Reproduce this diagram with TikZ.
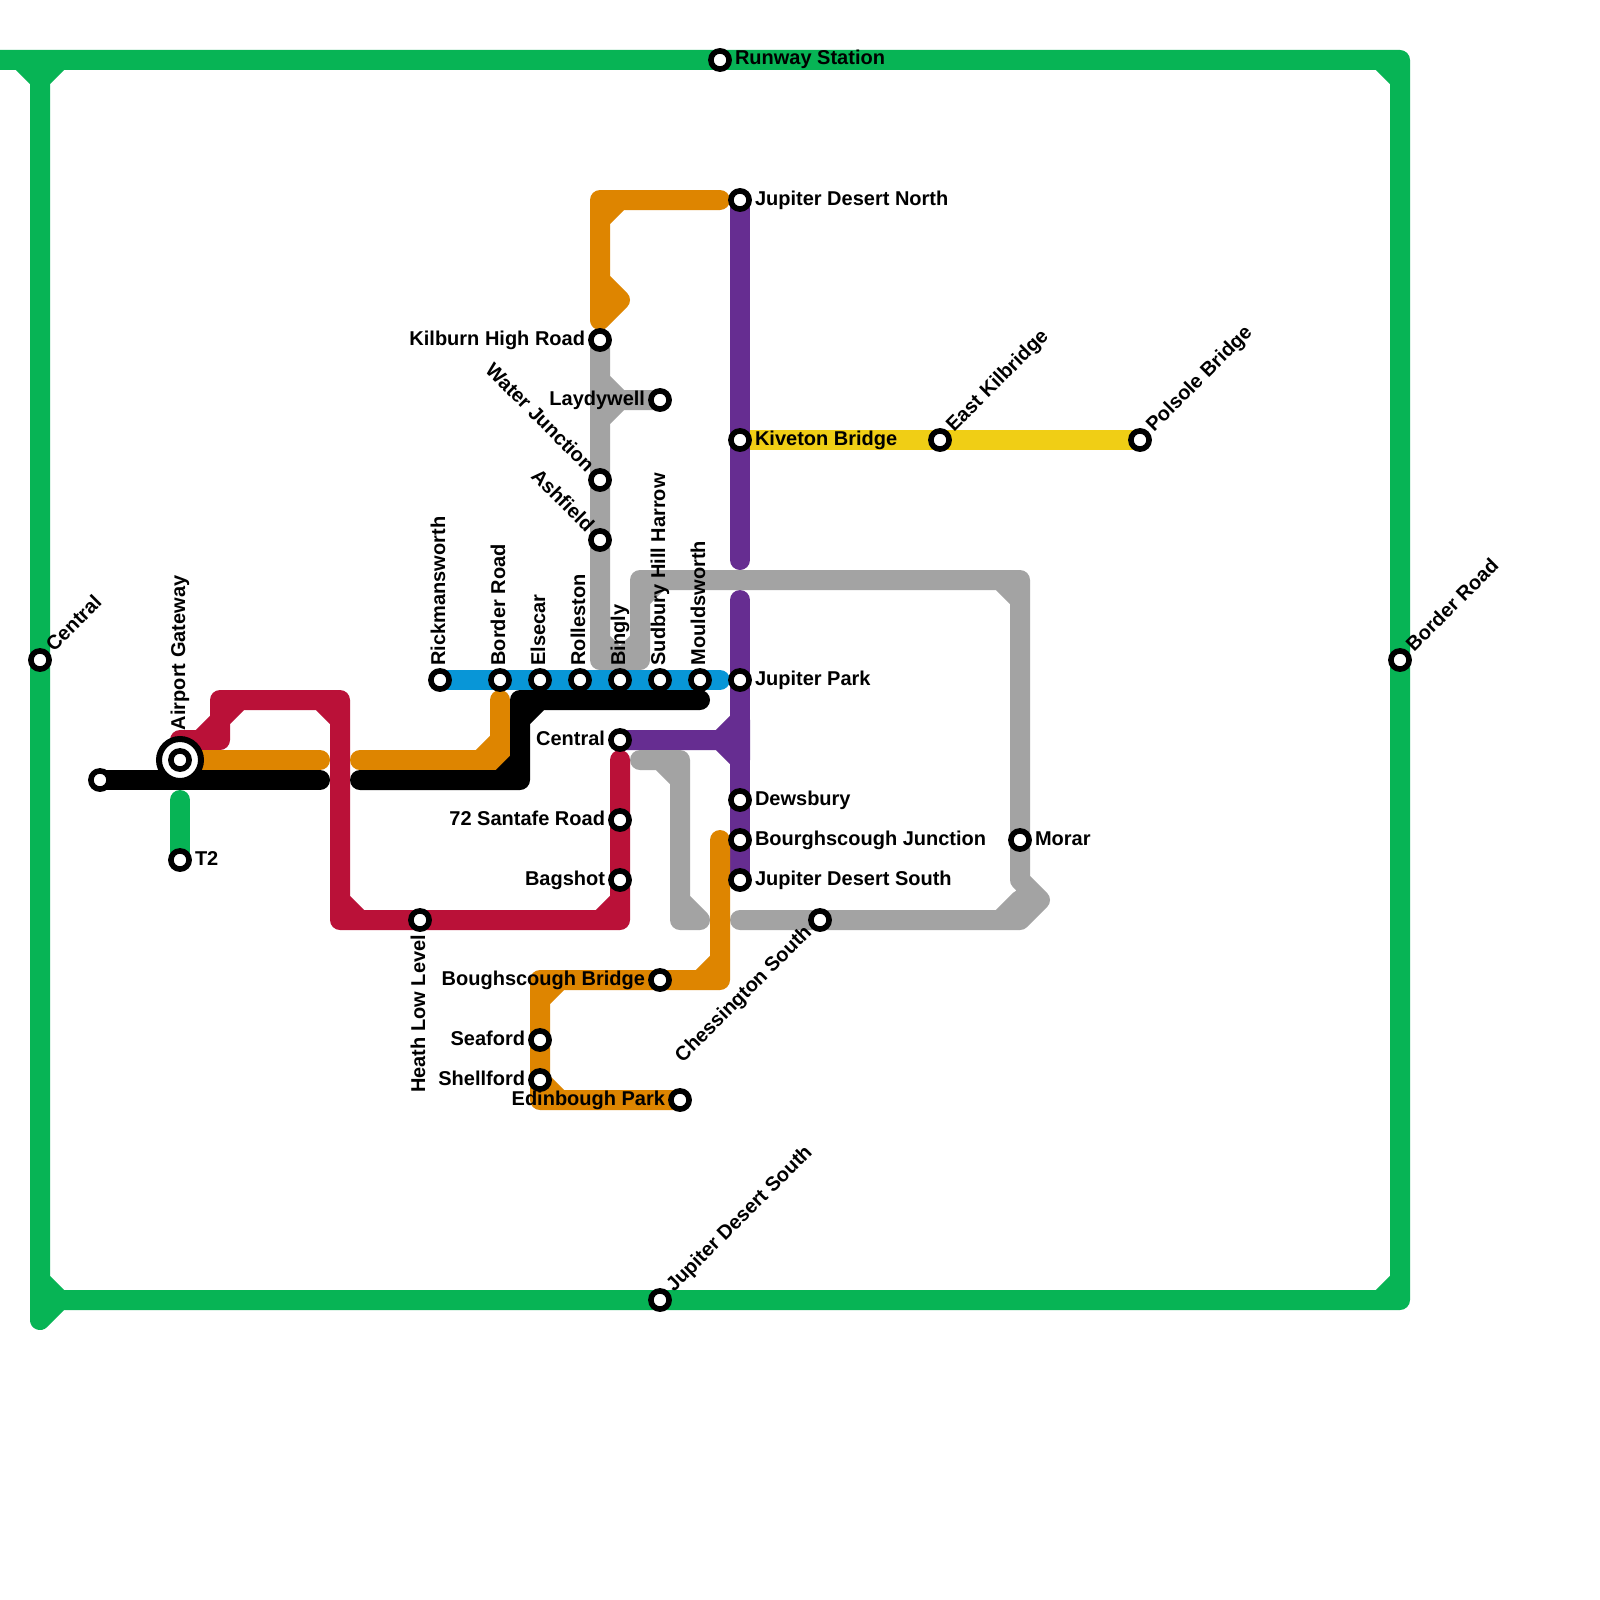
\documentclass[tikz,border=0pt]{standalone}
\usepackage{fontspec}
\setmainfont{Liberation Sans}
\usetikzlibrary{calc}
\pgfdeclarelayer{lines}
\pgfsetlayers{lines,main}
\definecolor{mgreen}{HTML}{07B455}
\definecolor{mred}{HTML}{BA1138}
\definecolor{morange}{HTML}{DE8500}
\definecolor{mblue}{HTML}{0896D7}
\definecolor{mpurple}{HTML}{662D91}
\definecolor{mgray}{HTML}{A3A3A3}
\definecolor{myellow}{HTML}{F0CE15}
\tikzset{
  metro/.style={line width=20pt,line cap=round,line join=round},
  stn/.style={circle,draw=black,fill=white,line width=5.6pt,minimum size=18.2pt,inner sep=0pt,outer sep=0pt},
  hub/.style={circle,draw=black,fill=white,line width=6pt,minimum size=42pt,inner sep=0pt,outer sep=0pt},
  lbl/.style={font=\bfseries\fontsize{20pt}{20pt}\selectfont,text=black,inner sep=0pt,outer sep=0pt,text height=15pt,text depth=5pt},
  lblE/.style={lbl,anchor=west},
  lblW/.style={lbl,anchor=east},
  lblUp/.style={lbl,anchor=west,rotate=90},
  lblDn/.style={lbl,anchor=east,rotate=90},
  lblNE/.style={lbl,anchor=west,rotate=45},
  lblSW/.style={lbl,anchor=east,rotate=45},
  lblNW/.style={lbl,anchor=east,rotate=-45}
}
\begin{document}
\begin{tikzpicture}[x=1pt,y=-1pt]
\useasboundingbox (0,0) rectangle (1600,1600);
% stations
\node[stn] (runway) at (720,60) {};
\node[stn] (jdn) at (740,200) {};
\node[stn] (kiveton) at (740,440) {};
\node[stn] (eastk) at (940,440) {};
\node[stn] (polsole) at (1140,440) {};
\node[stn] (kilburn) at (600,340) {};
\node[stn] (laydy) at (660,400) {};
\node[stn] (water) at (600,480) {};
\node[stn] (ashfield) at (600,540) {};
\node[stn] (rick) at (440,680) {};
\node[stn] (border) at (500,680) {};
\node[stn] (elsecar) at (540,680) {};
\node[stn] (rolleston) at (580,680) {};
\node[stn] (bingly) at (620,680) {};
\node[stn] (sudbury) at (660,680) {};
\node[stn] (mould) at (700,680) {};
\node[stn] (jpark) at (740,680) {};
\node[stn] (centralm) at (620,740) {};
\node[hub] (airporthub) at (180,760) {};
\node[stn] (airport) at (180,760) {};
\node[stn] (blackend) at (100,780) {};
\node[stn] (ttwo) at (180,860) {};
\node[stn] (centrall) at (40,660) {};
\node[stn] (borderr) at (1400,660) {};
\node[stn] (santafe) at (620,820) {};
\node[stn] (bagshot) at (620,880) {};
\node[stn] (heath) at (420,920) {};
\node[stn] (dews) at (740,800) {};
\node[stn] (bourj) at (740,840) {};
\node[stn] (jds) at (740,880) {};
\node[stn] (morar) at (1020,840) {};
\node[stn] (chess) at (820,920) {};
\node[stn] (bough) at (660,980) {};
\node[stn] (seaford) at (540,1040) {};
\node[stn] (shell) at (540,1080) {};
\node[stn] (edin) at (680,1100) {};
\node[stn] (jdsb) at (660,1300) {};
% free ends of lines
\coordinate (greenw) at (-20,60);
\coordinate (greens) at (40,1320);
\coordinate (greent) at (180,800);
\coordinate (redw) at (180,740);
\coordinate (redn) at (620,760);
\coordinate (orw) at (200,760);
\coordinate (ore) at (320,760);
\coordinate (orbw) at (360,760);
\coordinate (ortop) at (500,700);
\coordinate (ornn) at (600,320);
\coordinate (ornb) at (720,200);
\coordinate (orst) at (720,840);
\coordinate (blkw) at (320,780);
\coordinate (blkbw) at (360,780);
\coordinate (blke) at (700,700);
\coordinate (bluee) at (720,680);
\coordinate (pura) at (740,560);
\coordinate (purb) at (740,600);
\coordinate (grya) at (640,760);
\coordinate (gryb) at (700,920);
\coordinate (gryc) at (740,920);
% lines
\begin{pgfonlayer}{lines}
\fill[white] (0,0) rectangle (1600,1600);
\draw[metro,myellow] (kiveton.center) -- (eastk.center) -- (polsole.center);
\draw[metro,mpurple] (jdn.center) -- (kiveton.center) -- (pura);
\draw[metro,mpurple] (purb) -- (jpark.center) -- (dews.center) -- (bourj.center) -- (jds.center);
\draw[metro,mpurple] (centralm.center) -- (720,740) (740,720) -- (720,740) -- (740,760) -- cycle;
\draw[metro,mgray] (kilburn.center) -- (water.center) -- (ashfield.center) -- (600,660) -- (640,660) -- (640,580) -- (1020,580) -- (1020,880) -- (1040,900) -- (1020,920) -- (gryc)
  (600,380) -- (620,400) -- (600,420) (620,400) -- (laydy.center)
  (600,640) -- (620,660) (620,660) -- (640,640)
  (640,600) -- (660,580)
  (1000,580) -- (1020,600)
  (1000,920) -- (1020,900);
\draw[metro,mgray] (grya) -- (680,760) -- (680,920) -- (gryb)
  (660,760) -- (680,780)
  (680,900) -- (gryb);
\draw[metro,mred] (redw) -- (220,740) -- (220,700) -- (340,700) -- (340,920) -- (heath.center) -- (620,920) -- (bagshot.center) -- (santafe.center) -- (redn)
  (200,740) -- (220,720) -- (240,700)
  (320,700) -- (340,720)
  (340,900) -- (360,920)
  (600,920) -- (620,900);
\draw[metro,mblue] (rick.center) -- (border.center) -- (elsecar.center) -- (rolleston.center) -- (bingly.center) -- (sudbury.center) -- (mould.center) -- (bluee);
\draw[metro,morange] (orw) -- (ore);
\draw[metro,morange] (orbw) -- (500,760) -- (ortop) (480,760) -- (500,740);
\draw[metro,morange] (ornb) -- (600,200) -- (ornn) -- (620,300) -- (600,280) (600,220) -- (620,200);
\draw[metro,morange] (orst) -- (720,980) -- (bough.center) -- (540,980) -- (seaford.center) -- (shell.center) -- (540,1100) -- (edin.center)
  (720,960) -- (700,980)
  (560,980) -- (540,1000)
  (540,1080) -- (560,1100);
\draw[metro,black] (blackend.center) -- (blkw);
\draw[metro,black] (blkbw) -- (520,780) -- (520,700) -- (blke)
  (500,780) -- (520,760)
  (520,720) -- (540,700);
\draw[metro,mgreen] (greent) -- (ttwo.center);
\draw[metro,mgreen] (greenw) -- (runway.center) -- (1400,60) -- (borderr.center) -- (1400,1300) -- (jdsb.center) -- (60,1300) -- (greens) -- (40,80) -- (centrall.center)
  (40,1280) -- (60,1300)
  (20,60) -- (40,80) -- (60,60)
  (1380,60) -- (1400,80)
  (1400,1280) -- (1380,1300);
\end{pgfonlayer}
% labels
\node[lblE] (l1) at ($(runway)+(15,0)$) {Runway Station};
\node[lblE] (l2) at ($(jdn)+(15,0)$) {Jupiter Desert North};
\node[lblE] (l3) at ($(kiveton)+(15,0)$) {Kiveton Bridge};
\node[lblE] (l4) at ($(jpark)+(15,0)$) {Jupiter Park};
\node[lblE] (l5) at ($(dews)+(15,0)$) {Dewsbury};
\node[lblE] (l6) at ($(bourj)+(15,0)$) {Bourghscough Junction};
\node[lblE] (l7) at ($(jds)+(15,0)$) {Jupiter Desert South};
\node[lblE] (l8) at ($(morar)+(15,0)$) {Morar};
\node[lblE] (l9) at ($(ttwo)+(15,0)$) {T2};
\node[lblW] (l10) at ($(kilburn)+(-15,0)$) {Kilburn High Road};
\node[lblW] (l11) at ($(laydy)+(-15,0)$) {Laydywell};
\node[lblW] (l12) at ($(centralm)+(-15,0)$) {Central};
\node[lblW] (l13) at ($(santafe)+(-15,0)$) {72 Santafe Road};
\node[lblW] (l14) at ($(bagshot)+(-15,0)$) {Bagshot};
\node[lblW] (l15) at ($(bough)+(-15,0)$) {Boughscough Bridge};
\node[lblW] (l16) at ($(seaford)+(-15,0)$) {Seaford};
\node[lblW] (l17) at ($(shell)+(-15,0)$) {Shellford};
\node[lblW] (l18) at ($(edin)+(-15,0)$) {Edinbough Park};
\node[lblUp] (l19) at ($(airport)+(0,-30)$) {Airport Gateway};
\node[lblUp] (l20) at ($(rick)+(0,-14.5)$) {Rickmansworth};
\node[lblUp] (l21) at ($(border)+(0,-14.5)$) {Border Road};
\node[lblUp] (l22) at ($(elsecar)+(0,-14.5)$) {Elsecar};
\node[lblUp] (l23) at ($(rolleston)+(0,-14.5)$) {Rolleston};
\node[lblUp] (l24) at ($(bingly)+(0,-14.5)$) {Bingly};
\node[lblUp] (l25) at ($(sudbury)+(0,-14.5)$) {Sudbury Hill Harrow};
\node[lblUp] (l26) at ($(mould)+(0,-14.5)$) {Mouldsworth};
\node[lblDn] (l27) at ($(heath)+(0,15)$) {Heath Low Level};
\node[lblNE] (l28) at ($(centrall)+(10.5,-11)$) {Central};
\node[lblNE] (l29) at ($(borderr)+(10.5,-11)$) {Border Road};
\node[lblNE] (l30) at ($(eastk)+(10.5,-11)$) {East Kilbridge};
\node[lblNE] (l31) at ($(polsole)+(10.5,-11)$) {Polsole Bridge};
\node[lblNE] (l32) at ($(jdsb)+(10.5,-11)$) {Jupiter Desert South};
\node[lblSW] (l33) at ($(chess)+(-11,10)$) {Chessington South};
\node[lblNW] (l34) at ($(water)+(-10.5,-10.5)$) {Water Junction};
\node[lblNW] (l35) at ($(ashfield)+(-10.5,-10.5)$) {Ashfield};
\end{tikzpicture}
\end{document}
